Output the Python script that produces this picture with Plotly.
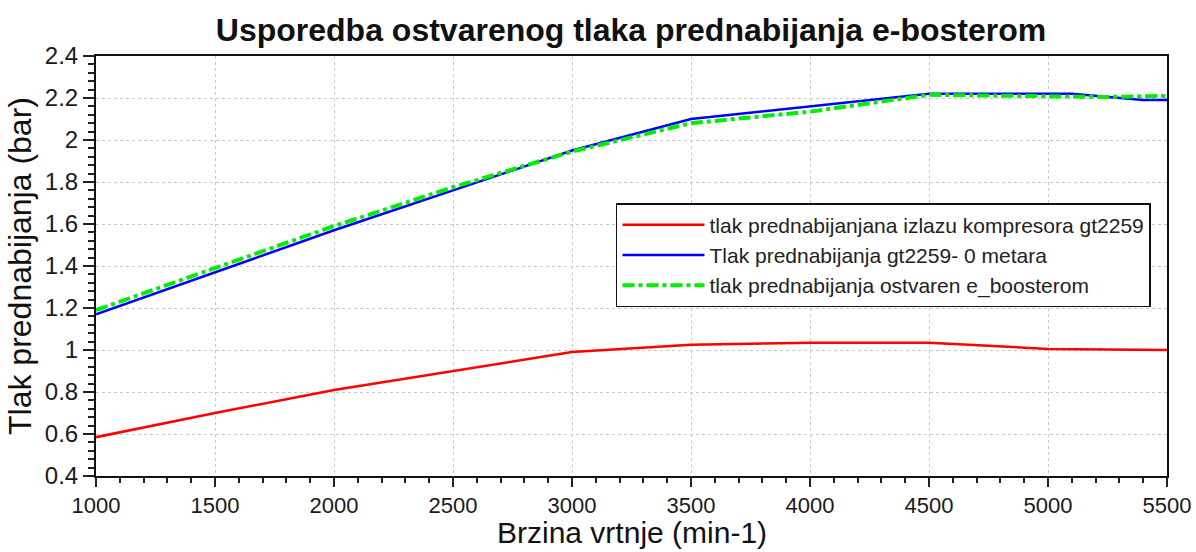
import plotly.graph_objects as go

# Engine speed (min-1) and boost pressure (bar) for each series
rpm_red = [1000, 1500, 2000, 2500, 3000, 3500, 4000, 4500, 4750, 5000, 5500]
p_red = [0.585, 0.70, 0.81, 0.90, 0.99, 1.025, 1.035, 1.035, 1.02, 1.005, 1.0]

rpm_blue = [1000, 1500, 2000, 2500, 3000, 3500, 4000, 4500, 5100, 5400, 5500]
p_blue = [1.17, 1.37, 1.57, 1.76, 1.95, 2.10, 2.16, 2.22, 2.22, 2.19, 2.19]

rpm_green = [1000, 1500, 2000, 2500, 3000, 3500, 4000, 4500, 5000, 5250, 5500]
p_green = [1.19, 1.39, 1.59, 1.775, 1.945, 2.08, 2.135, 2.215, 2.21, 2.205, 2.21]

names = [
    "tlak prednabijanjana izlazu kompresora gt2259",
    "Tlak prednabijanja gt2259- 0 metara",
    "tlak prednabijanja ostvaren e_boosterom",
]

x_ticks = [1000, 1500, 2000, 2500, 3000, 3500, 4000, 4500, 5000, 5500]
y_ticks = [0.4, 0.6, 0.8, 1.0, 1.2, 1.4, 1.6, 1.8, 2.0, 2.2, 2.4]
y_labels = ["0.4", "0.6", "0.8", "1", "1.2", "1.4", "1.6", "1.8", "2", "2.2", "2.4"]

FONT = "Liberation Sans, Arial, sans-serif"

fig = go.Figure()
fig.add_trace(go.Scatter(x=rpm_red, y=p_red, mode="lines", name=names[0],
                         line=dict(color="#ff0000", width=2.5)))
fig.add_trace(go.Scatter(x=rpm_blue, y=p_blue, mode="lines", name=names[1],
                         line=dict(color="#0000ff", width=2.5)))
fig.add_trace(go.Scatter(x=rpm_green, y=p_green, mode="lines", name=names[2],
                         line=dict(color="#00ee00", width=4, dash="dashdot")))

axis_common = dict(
    showline=True, linecolor="#111", linewidth=2, mirror=True,
    ticks="outside", tickwidth=2, tickcolor="#222",
    showgrid=True, gridcolor="#c8c8c8", griddash="dot", gridwidth=1,
    zeroline=False, automargin=False,
)

fig.update_xaxes(
    range=[1000, 5500], tickvals=x_ticks, ticklen=9,
    tickfont=dict(family=FONT, size=22, color="#1a1a1a"),
    minor=dict(dtick=100, ticks="outside", ticklen=5, tickwidth=1.5, tickcolor="#222", showgrid=False),
    **axis_common,
)
fig.update_yaxes(
    range=[0.4, 2.4], tickvals=y_ticks, ticktext=y_labels, ticklen=11,
    tickfont=dict(family=FONT, size=24, color="#1a1a1a"),
    minor=dict(dtick=0.04, tick0=0.4, ticks="outside", ticklen=6, tickwidth=1.5, tickcolor="#222", showgrid=False),
    title=dict(text="Tlak prednabijanja (bar)", font=dict(family=FONT, size=32, color="#111"), standoff=4),
    **axis_common,
)

# x-axis title placed under the tick labels
fig.add_annotation(text="Brzina vrtnje (min-1)", xref="paper", yref="paper",
                   x=0.5, y=-0.176, xanchor="center", yanchor="bottom", showarrow=False,
                   borderpad=0, font=dict(family=FONT, size=30, color="#111"))

fig.update_layout(
    width=1196, height=552,
    margin=dict(l=96, r=29, t=56, b=76),
    paper_bgcolor="white", plot_bgcolor="white",
    title=dict(text="<b>Usporedba ostvarenog tlaka prednabijanja e-bosterom</b>",
               font=dict(family=FONT, size=32, color="#111"),
               x=0.5276, xanchor="center", y=0.946, yanchor="middle"),
    legend=dict(x=0.4855, y=0.65, xanchor="left", yanchor="top",
                bgcolor="white", bordercolor="#111", borderwidth=1.5,
                font=dict(family=FONT, size=21, color="#222"),
                itemwidth=82, tracegroupgap=0),
    showlegend=True,
)

fig.write_html("out.html")
